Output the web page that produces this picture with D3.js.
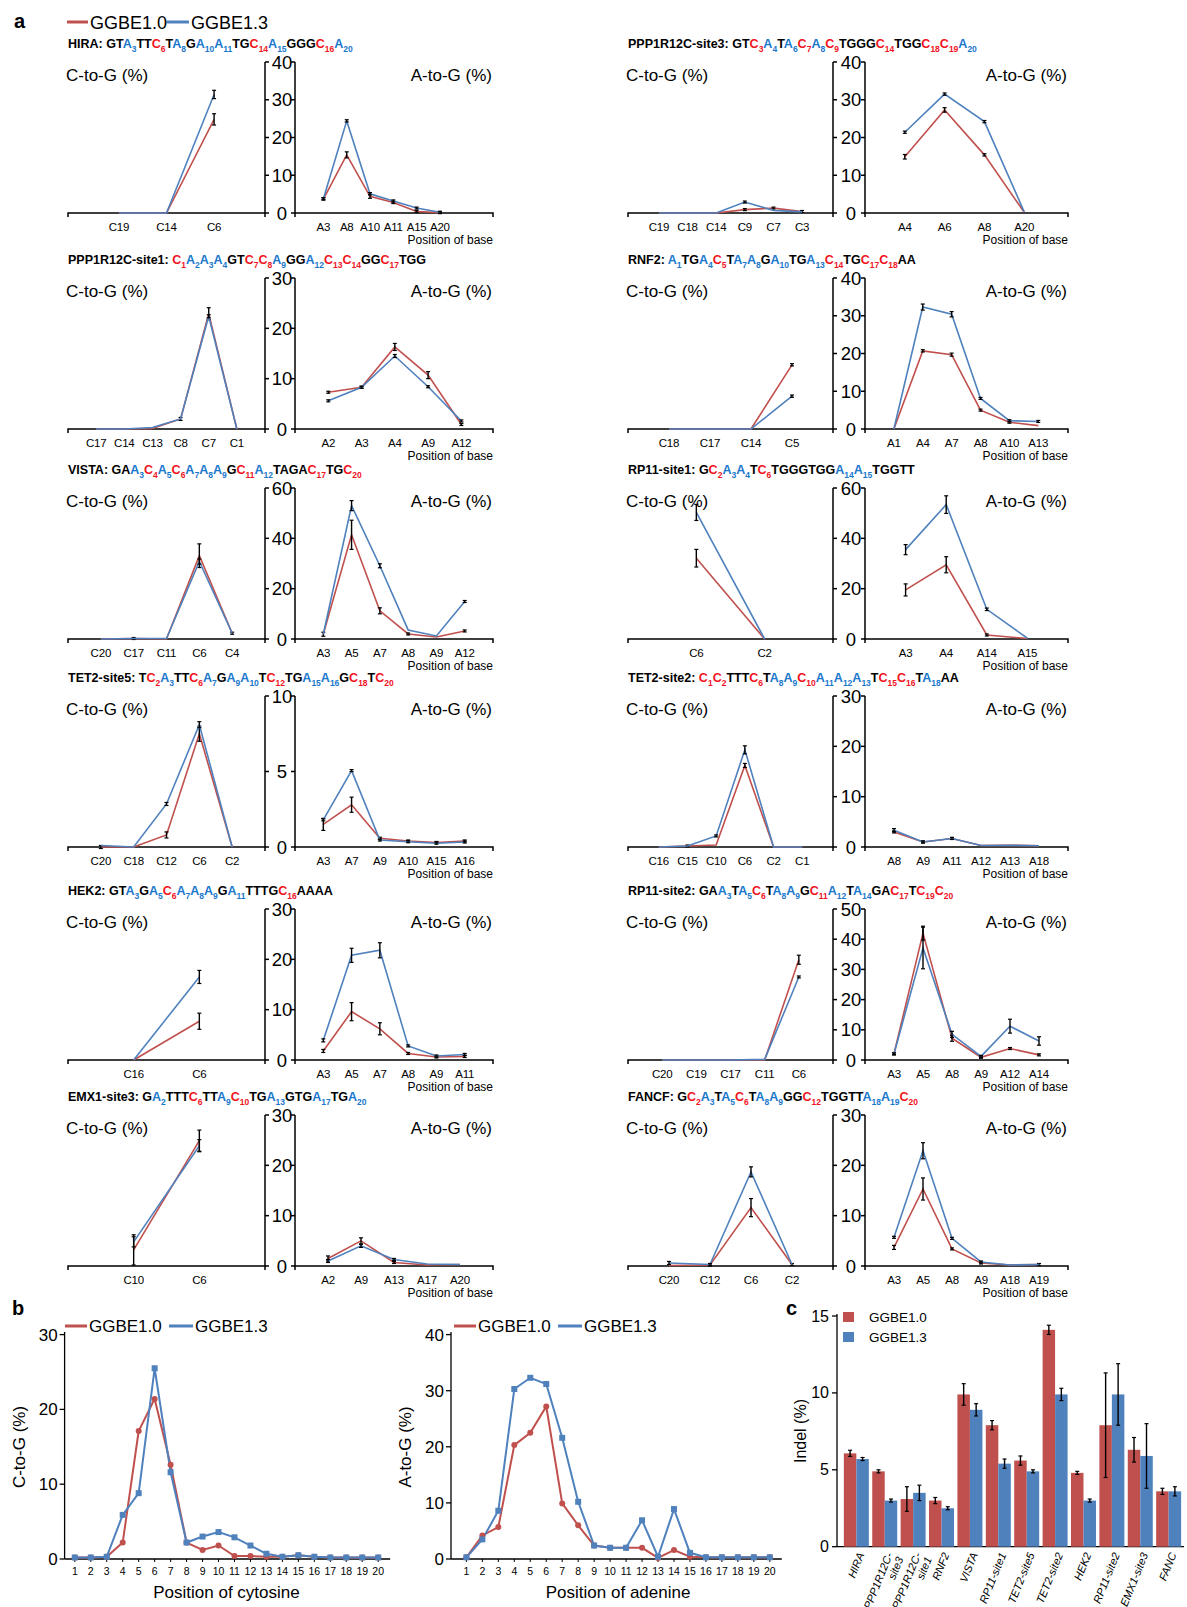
<!DOCTYPE html>
<html>
<head>
<meta charset="utf-8">
<script src="https://cdn.jsdelivr.net/npm/d3@7"></script>
<style>
  body { margin: 0; background: #fff; }
  text { font-family: "Liberation Sans", Arial, Helvetica, sans-serif; }
</style>
</head>
<body>
<svg id="fig" width="1187" height="1607"></svg>
<script>
const red = '#c0504d', blue = '#4f81bd'
const seqRed = '#f0141e', seqBlue = '#1a78cc'

// ---- panel a data ----
const siteNames = ['HIRA', 'PPP1R12C-site3', 'PPP1R12C-site1', 'RNF2', 'VISTA', 'RP11-site1',
    'TET2-site5', 'TET2-site2', 'HEK2', 'RP11-site2', 'EMX1-site3', 'FANCF']
const siteSeqs = ['GTA3TTC6TA8GA10A11TGC14A15GGGC16A20', 'GTC3A4TA6C7A8C9TGGGC14TGGC18C19A20',
    'C1A2A3A4GTC7C8A9GGA12C13C14GGC17TGG', 'A1TGA4C5TA7A8GA10TGA13C14TGC17C18AA',
    'GAA3C4A5C6A7A8A9GC11A12TAGAC17TGC20', 'GC2A3A4TC6TGGGTGGA14A15TGGTT',
    'TC2A3TTC6A7GA9A10TC12TGA15A16GC18TC20', 'C1C2TTTC6TA8A9C10A11A12A13TC15C16TA18AA',
    'GTA3GA5C6A7A8A9GA11TTTGC16AAAA', 'GAA3TA5C6TA8A9GC11A12TA14GAC17TC19C20',
    'GA2TTTC6TTA9C10TGA13GTGA17TGA20', 'GC2A3TA5C6TA8A9GGC12TGGTTA18A19C20']

const cPos = [['C19','C14','C6'], ['C19','C18','C14','C9','C7','C3'], ['C17','C14','C13','C8','C7','C1'],
    ['C18','C17','C14','C5'], ['C20','C17','C11','C6','C4'], ['C6','C2'], ['C20','C18','C12','C6','C2'],
    ['C16','C15','C10','C6','C2','C1'], ['C16','C6'], ['C20','C19','C17','C11','C6'], ['C10','C6'],
    ['C20','C12','C6','C2']]
const cV10 = [[0,0,24.8], [0,0,0,0.9,1.3,0.4], [0,0,0.1,2.0,22.9,0], [0,0,0,17.0], [0,0.2,0,33.1,2.3],
    [32.1,0], [0,0,0.8,7.5,0], [0,0.2,0.4,16.2,0,0], [0,7.7], [0,0,0,0,33.2], [3.2,24.9], [0.1,0.2,11.6,0.3]]
const cE10 = [[0,0,1.5], [0,0,0,0.2,0.2,0.2], [0,0,0,0.3,1.2,0], [0,0,0,0.3], [0,0.2,0,4.7,0.3],
    [3.5,0], [0.1,0,0.2,0.5,0], [0,0.2,0,0.4,0,0], [0,1.6], [0,0,0,0,1.5], [3.0,2.1], [0,0.2,1.8,0.2]]
const cV13 = [[0,0,31.4], [0,0,0,2.9,0.7,0.3], [0,0,0.3,2.0,22.4,0], [0,0,0,8.7], [0,0.2,0.2,30.8,2.3],
    [50.3,0], [0.1,0,2.85,8.1,0], [0,0.2,2.2,19.3,0,0], [0,16.5], [0,0,0,0.2,27.5], [4.8,23.9], [0.6,0.3,18.7,0.3]]
const cE13 = [[0,0,1.1], [0,0,0,0.2,0,0], [0,0,0,0,0.3,0], [0,0,0,0.3], [0,0,0,1.0,0],
    [3.2,0], [0,0,0.1,0.2,0], [0,0,0.15,0.8,0,0], [0,1.3], [0,0,0,0,0.3], [1.0,1.2], [0.3,0.2,1.0,0]]

const aPos = [['A3','A8','A10','A11','A15','A20'], ['A4','A6','A8','A20'], ['A2','A3','A4','A9','A12'],
    ['A1','A4','A7','A8','A10','A13'], ['A3','A5','A7','A8','A9','A12'], ['A3','A4','A14','A15'],
    ['A3','A7','A9','A10','A15','A16'], ['A8','A9','A11','A12','A13','A18'], ['A3','A5','A7','A8','A9','A11'],
    ['A3','A5','A8','A9','A12','A14'], ['A2','A9','A13','A17','A20'], ['A3','A5','A8','A9','A18','A19']]
const aV10 = [[3.7,15.4,4.4,2.8,0.4,0.1], [14.9,27.3,15.4,0.2], [7.3,8.3,16.3,10.7,0.9],
    [0,20.7,19.7,5.0,1.8,0.9], [1.9,41.4,11.2,2.0,0.8,3.2], [19.5,29.5,1.6,0.2],
    [1.5,2.8,0.58,0.4,0.3,0.4], [3.0,1.0,1.7,0.3,0.35,0.25], [1.8,9.6,6.2,1.3,0.6,0.7],
    [2.1,42,7.2,0.9,3.8,1.7], [1.5,5.0,0.7,0.2,0.3], [3.7,15.3,3.4,0.6,0.2,0.3]]
const aE10 = [[0.3,0.8,0.5,0.3,0.1,0.1], [0.6,0.6,0.3,0], [0.2,0.2,0.7,0.7,0.2], [0,0.3,0.4,0.1,0.1,0],
    [0.8,5.8,1.2,0.2,0,0.3], [2.4,3.2,0.2,0], [0.4,0.5,0.05,0.05,0.05,0.05], [0.2,0.1,0.1,0,0,0],
    [0.3,1.8,1.2,0.2,0.1,0.2], [0.3,2.3,1.0,0.1,0.2,0.2], [0.5,0.6,0.1,0,0], [0.4,2.2,0.2,0.1,0,0.1]]
const aV13 = [[3.8,24.4,5.1,3.2,1.3,0.2], [21.4,31.5,24.2,0.3], [5.6,8.3,14.5,8.4,1.6],
    [0,32.3,30.4,8.1,2.2,2.0], [1.9,53,29.1,3.6,1.2,14.9], [35.5,53.4,11.8,0.3],
    [1.8,5.06,0.46,0.35,0.25,0.33], [3.35,1.0,1.7,0.3,0.35,0.25], [3.9,20.8,21.8,2.8,0.8,1.1],
    [2.0,37.1,8.5,1.2,11.2,6.3], [1.0,4.0,1.3,0.4,0.3], [5.7,22.9,5.5,0.8,0.2,0.3]]
const aE13 = [[0.2,0.3,0.3,0.2,0.1,0.1], [0.3,0.3,0.3,0], [0.2,0.1,0.3,0.2,0.2], [0,0.8,0.7,0.2,0.1,0.1],
    [0,2.0,0.8,0,0,0.3], [2.0,3.5,0.5,0], [0.05,0.05,0.05,0.05,0.05,0.05], [0.3,0.1,0.1,0,0,0],
    [0.3,1.4,1.5,0.1,0.1,0.2], [0.2,6.9,1.0,0.1,2.3,1.4], [0.3,0.3,0.1,0,0], [0.2,1.6,0.2,0.1,0,0]]

const yTicks = [[0,10,20,30,40], [0,10,20,30,40], [0,10,20,30], [0,10,20,30,40], [0,20,40,60], [0,20,40,60],
    [0,5,10], [0,10,20,30], [0,10,20,30], [0,10,20,30,40,50], [0,10,20,30], [0,10,20,30]]

// ---- panel b data ----
const bPositions = [1,2,3,4,5,6,7,8,9,10,11,12,13,14,15,16,17,18,19,20]
const cytoG10 = [0.2,0.2,0.3,2.2,17.1,21.4,12.6,2.2,1.2,1.8,0.4,0.4,0.3,0.3,0.5,0.3,0.2,0.2,0.2,0.2]
const cytoG13 = [0.2,0.2,0.3,5.9,8.8,25.5,11.6,2.2,3.0,3.6,2.9,1.8,0.7,0.3,0.5,0.3,0.2,0.2,0.2,0.2]
const adenG10 = [0.3,4.2,5.7,20.3,22.5,27.2,9.9,6.0,2.4,2.0,2.0,2.0,0.2,1.6,0.4,0.3,0.3,0.3,0.3,0.3]
const adenG13 = [0.3,3.5,8.6,30.3,32.3,31.2,21.6,10.2,2.4,2.0,2.0,6.9,0.4,8.9,1.1,0.3,0.3,0.3,0.3,0.3]

// ---- panel c data ----
const indelSites = ['HIRA', 'PPP1R12C-|site3', 'PPP1R12C-|site1', 'RNF2', 'VISTA', 'RP11-site1',
    'TET2-site5', 'TET2-site2', 'HEK2', 'RP11-site2', 'EMX1-site3', 'FANC']
const indel10 = [6.07,4.9,3.1,3.0,9.9,7.9,5.6,14.1,4.8,7.9,6.3,3.6]
const indel10Err = [0.2,0.1,0.8,0.2,0.7,0.3,0.3,0.3,0.1,3.4,0.8,0.2]
const indel13 = [5.7,3.0,3.5,2.5,8.9,5.4,4.9,9.9,3.0,9.9,5.9,3.6]
const indel13Err = [0.1,0.1,0.5,0.1,0.4,0.3,0.1,0.4,0.1,2.0,2.1,0.3]

// layout
const cols = [{c0: 68, c1: 265, a0: 295, a1: 493}, {c0: 628, c1: 833, a0: 865, a1: 1068}]
const rowTop = [62, 278, 488, 696, 909, 1115], rowH = 151
const cPad = [1.07,1.08,1,1,1,1,1,1.07,1,1,1,1]
const aPadL = [1.22,1,1,1,1,1,1,1,1,1,1,1]
const aPadR = [2.28,1.1,0.95,1.03,1,1,1,1,1,1,1,1]

const svg = d3.select('#fig')
svg.append('rect').attr('width', 1187).attr('height', 1607).attr('fill', '#fff')

function label(g, x, y, txt, size, opts = {}) {
    return g.append('text')
        .attr('x', x).attr('y', y)
        .attr('font-size', size)
        .attr('text-anchor', opts.anchor || 'start')
        .attr('font-weight', opts.bold ? 'bold' : null)
        .attr('fill', '#000')
        .text(txt)
}

function errorBars(g, pts, x, y, capW) {
    pts.filter(d => d.e > 0).forEach(d => {
        const cx = x(d.k)
        const y1 = Math.min(y(d.v + d.e), y(d.v) - 1)
        const y2 = Math.max(y(d.v - d.e), y(d.v) + 1)
        g.append('line').attr('x1', cx).attr('x2', cx).attr('y1', y1).attr('y2', y2)
            .attr('stroke', '#000').attr('stroke-width', 1.4)
        ;[y1, y2].forEach(yy => g.append('line')
            .attr('x1', cx - capW / 2).attr('x2', cx + capW / 2).attr('y1', yy).attr('y2', yy)
            .attr('stroke', '#000').attr('stroke-width', 1.2))
    })
}

// legend + label of panel a
label(svg, 14, 28, 'a', 20, {bold: true})
svg.append('line').attr('x1', 67).attr('x2', 88).attr('y1', 22).attr('y2', 22).attr('stroke', red).attr('stroke-width', 3)
label(svg, 90, 28.5, 'GGBE1.0', 18)
svg.append('line').attr('x1', 166).attr('x2', 189).attr('y1', 22).attr('y2', 22).attr('stroke', blue).attr('stroke-width', 3)
label(svg, 191, 28.5, 'GGBE1.3', 18)

function subChart(g, cats, v10, e10, v13, e13, x0, x1, padL, padR, y, bottom) {
    const x = d3.scaleLinear().domain([-padL, cats.length - 1 + padR]).range([x0, x1])
    // axis line with end ticks
    g.append('path').attr('d', `M${x0},${bottom + 4}V${bottom}H${x1}V${bottom + 4}`)
        .attr('fill', 'none').attr('stroke', '#000').attr('stroke-width', 1.5)
    cats.forEach((c, k) => label(g, x(k), bottom + 18, c, 11.5, {anchor: 'middle'})
        .attr('letter-spacing', -0.2))
    const line = d3.line().x(d => x(d.k)).y(d => y(d.v))
    ;[[v10, e10, red], [v13, e13, blue]].forEach(([vals, errs, color]) => {
        const pts = vals.map((v, k) => ({k, v, e: errs[k]}))
        g.append('path').datum(pts).attr('d', line)
            .attr('fill', 'none').attr('stroke', color).attr('stroke-width', 1.6)
        errorBars(g, pts, x, y, 4)
    })
}

siteNames.forEach((name, i) => {
    const col = cols[i % 2]
    const top = rowTop[Math.floor(i / 2)], bottom = top + rowH
    const g = svg.append('g')
    const y = d3.scaleLinear().domain([0, d3.max(yTicks[i])]).range([bottom, top])

    // sequence title with coloured, numbered bases
    const t = g.append('text').attr('x', col.c0).attr('y', top - 14)
        .attr('font-size', 12.5).attr('font-weight', 'bold')
    t.append('tspan').text(name + ': ')
    let shifted = false
    for (const m of siteSeqs[i].matchAll(/([ACGT])(\d*)/g)) {
        const color = m[2] ? (m[1] === 'C' ? seqRed : seqBlue) : '#000'
        t.append('tspan').attr('fill', color).attr('dy', shifted ? -3.5 : null).text(m[1])
        shifted = false
        if (m[2]) {
            t.append('tspan').attr('fill', color).attr('font-size', 8.5).attr('dy', 3.5).text(m[2])
            shifted = true
        }
    }

    // central double y axis
    ;[col.c1, col.a0].forEach((ax, s) => {
        g.append('line').attr('x1', ax).attr('x2', ax).attr('y1', top).attr('y2', bottom)
            .attr('stroke', '#000').attr('stroke-width', 1.5)
        yTicks[i].forEach(v => g.append('line')
            .attr('x1', ax).attr('x2', s === 0 ? ax + 4 : ax - 4)
            .attr('y1', y(v)).attr('y2', y(v))
            .attr('stroke', '#000').attr('stroke-width', 1.5))
    })
    yTicks[i].forEach(v => label(g, (col.c1 + col.a0) / 2 + 2, y(v) + 6.5, v, 18.5, {anchor: 'middle'}))

    label(g, col.c0 - 2, top + 19, 'C-to-G (%)', 17)
    label(g, col.a1 - 1, top + 19, 'A-to-G (%)', 17, {anchor: 'end'})
    label(g, col.a1, bottom + 31, 'Position of base', 12, {anchor: 'end'})

    subChart(g, cPos[i], cV10[i], cE10[i], cV13[i], cE13[i], col.c0, col.c1, cPad[i], cPad[i], y, bottom)
    subChart(g, aPos[i], aV10[i], aE10[i], aV13[i], aE13[i], col.a0, col.a1, aPadL[i], aPadR[i], y, bottom)
})

// ---- panel b ----
label(svg, 12, 1315, 'b', 20, {bold: true})

function profile(v10, v13, yAxisX, xr, yMax, ticks, yTitle, xTitle, legX) {
    const g = svg.append('g')
    const x = d3.scaleLinear().domain([1, 20]).range(xr)
    const y = d3.scaleLinear().domain([0, yMax]).range([1559, 1334.6])
    g.append('line').attr('x1', yAxisX).attr('x2', yAxisX).attr('y1', 1559).attr('y2', 1332)
        .attr('stroke', '#000').attr('stroke-width', 1.3)
    g.append('line').attr('x1', yAxisX).attr('x2', xr[1] + 12).attr('y1', 1559).attr('y2', 1559)
        .attr('stroke', '#000').attr('stroke-width', 1.3)
    ticks.forEach(v => {
        g.append('line').attr('x1', yAxisX - 5).attr('x2', yAxisX).attr('y1', y(v)).attr('y2', y(v))
            .attr('stroke', '#000').attr('stroke-width', 1.3)
        label(g, yAxisX - 7, y(v) + 6, v, 17, {anchor: 'end'})
    })
    bPositions.forEach(p => {
        g.append('line').attr('x1', x(p)).attr('x2', x(p)).attr('y1', 1559).attr('y2', 1562)
            .attr('stroke', '#000').attr('stroke-width', 1)
        label(g, x(p), 1575, p, 10.5, {anchor: 'middle'})
    })
    label(g, (xr[0] + xr[1]) / 2, 1598, xTitle, 17, {anchor: 'middle'})
    label(g, 0, 0, yTitle, 17, {anchor: 'middle'})
        .attr('transform', `translate(${yAxisX - 40},1447) rotate(-90)`)

    const line = d3.line().x((d, k) => x(bPositions[k])).y(d => y(d))
    g.append('path').datum(v10).attr('d', line).attr('fill', 'none').attr('stroke', red).attr('stroke-width', 2)
    g.append('path').datum(v13).attr('d', line).attr('fill', 'none').attr('stroke', blue).attr('stroke-width', 2)
    g.selectAll('circle').data(v10).join('circle')
        .attr('cx', (d, k) => x(bPositions[k])).attr('cy', d => y(d)).attr('r', 3).attr('fill', red)
    g.selectAll('rect.sq').data(v13).join('rect').attr('class', 'sq')
        .attr('x', (d, k) => x(bPositions[k]) - 3).attr('y', d => y(d) - 3)
        .attr('width', 6).attr('height', 6).attr('fill', blue)

    // legend
    g.append('line').attr('x1', legX).attr('x2', legX + 22).attr('y1', 1326).attr('y2', 1326)
        .attr('stroke', red).attr('stroke-width', 3)
    label(g, legX + 24, 1332, 'GGBE1.0', 17)
    g.append('line').attr('x1', legX + 104).attr('x2', legX + 128).attr('y1', 1326).attr('y2', 1326)
        .attr('stroke', blue).attr('stroke-width', 3)
    label(g, legX + 130, 1332, 'GGBE1.3', 17)
}

profile(cytoG10, cytoG13, 64.6, [74.8, 378.2], 30, [0,10,20,30], 'C-to-G (%)', 'Position of cytosine', 65)
profile(adenG10, adenG13, 451, [466.4, 769.8], 40, [0,10,20,30,40], 'A-to-G (%)', 'Position of adenine', 454)

// ---- panel c ----
label(svg, 786, 1315, 'c', 20, {bold: true})
const gc = svg.append('g')
const xc = d3.scaleBand().domain(indelSites).range([843, 1182]).paddingInner(0.12).paddingOuter(0.03)
const xs = d3.scaleBand().domain(['10', '13']).range([0, xc.bandwidth()])
const yc = d3.scaleLinear().domain([0, 15]).range([1546.7, 1316])

gc.append('line').attr('x1', 837).attr('x2', 837).attr('y1', 1546.7).attr('y2', 1314)
    .attr('stroke', '#000').attr('stroke-width', 1.3)
gc.append('line').attr('x1', 837).attr('x2', 1184).attr('y1', 1546.7).attr('y2', 1546.7)
    .attr('stroke', '#000').attr('stroke-width', 1.3)
;[0, 5, 10, 15].forEach(v => {
    gc.append('line').attr('x1', 832).attr('x2', 837).attr('y1', yc(v)).attr('y2', yc(v))
        .attr('stroke', '#000').attr('stroke-width', 1.3)
    label(gc, 829, yc(v) + 5.5, v, 16, {anchor: 'end'})
})
label(gc, 0, 0, 'Indel (%)', 16, {anchor: 'middle'}).attr('transform', 'translate(806,1431) rotate(-90)')

;[[indel10, indel10Err, red, '10'], [indel13, indel13Err, blue, '13']].forEach(([vals, errs, color, key]) => {
    indelSites.forEach((s, k) => {
        const bx = xc(s) + xs(key)
        gc.append('rect').attr('x', bx).attr('y', yc(vals[k])).attr('width', xs.bandwidth())
            .attr('height', yc(0) - yc(vals[k])).attr('fill', color)
    })
    const pts = vals.map((v, k) => ({k, v, e: errs[k]}))
    errorBars(gc, pts, k => xc(indelSites[k]) + xs(key) + xs.bandwidth() / 2, yc, 4)
})

indelSites.forEach(s => {
    const cx = xc(s) + xc.bandwidth() / 2
    const t = gc.append('text').attr('font-size', 11).attr('font-style', 'italic').attr('text-anchor', 'end')
        .attr('transform', `translate(${cx + 2},1552) rotate(-68)`)
    s.split('|').forEach((part, j) => t.append('tspan').attr('x', 0).attr('dy', j ? '1.05em' : '0.6em').text(part))
})

// legend c
gc.append('rect').attr('x', 843).attr('y', 1312).attr('width', 11).attr('height', 10).attr('fill', red)
label(gc, 869, 1322, 'GGBE1.0', 13.5)
gc.append('rect').attr('x', 843).attr('y', 1332).attr('width', 11).attr('height', 10).attr('fill', blue)
label(gc, 869, 1342, 'GGBE1.3', 13.5)
</script>
</body>
</html>
